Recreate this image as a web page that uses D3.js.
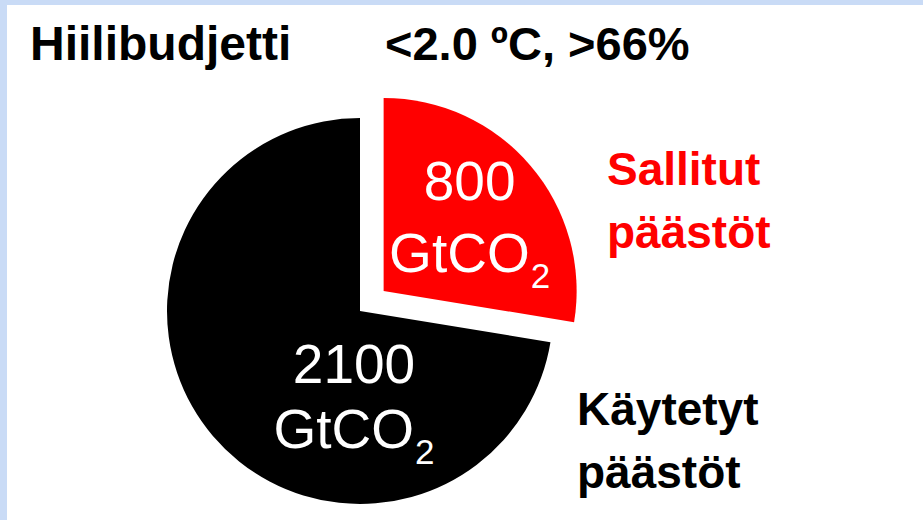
<!DOCTYPE html>
<html lang="fi">
<head>
<meta charset="UTF-8">
<title>Hiilibudjetti</title>
<script src="https://d3js.org/d3.v7.min.js"></script>
<style>
    body { margin: 0; background: #fff; }
    text { font-family: "Liberation Sans", Arial, sans-serif; }
</style>
</head>
<body>
<svg width="923" height="520"></svg>
<script>
    // data
    const categories = ["Sallitut päästöt", "Käytetyt päästöt"];
    const values = [800, 2100];
    const units = ["GtCO", "GtCO"];
    const colors = ["#ff0000", "#000000"];
    const legendLines = [["Sallitut", "päästöt"], ["Käytetyt", "päästöt"]];
    const titleLeft = "Hiilibudjetti";
    const titleRight = "<2.0 ºC, >66%";

    const svg = d3.select("svg");
    const W = 923, H = 520;

    // slide frame (light blue strip left and top)
    svg.append("rect").attr("width", W).attr("height", H).attr("fill", "#c9dbf6");
    svg.append("rect").attr("x", 7).attr("y", 5).attr("width", W - 7).attr("height", H - 5).attr("fill", "#fff");

    svg.append("text").attr("x", 30).attr("y", 60)
        .attr("font-size", 48).attr("font-weight", "bold").text(titleLeft);
    svg.append("text").attr("x", 385).attr("y", 60)
        .attr("font-size", 47).attr("font-weight", "bold").text(titleRight);

    const cx = 360, cy = 311, r = 193, explode = 31;

    const pie = d3.pie().sort(null).value(d => d)(values);
    const arc = d3.arc().innerRadius(0).outerRadius(r);

    const g = svg.append("g").attr("transform", `translate(${cx},${cy})`);

    const slices = g.selectAll("g.slice")
        .data(pie)
        .enter()
        .append("g")
        .attr("class", "slice")
        .attr("transform", function (d, i) {
            if (i !== 0) return null;
            const a = (d.startAngle + d.endAngle) / 2;
            return `translate(${Math.sin(a) * explode},${-Math.cos(a) * explode})`;
        });

    slices.append("path")
        .attr("d", arc)
        .attr("fill", (d, i) => colors[i]);

    // value labels, placed by hand like the original slide
    const labelPos = [[86, -91, -19], [-6, 72, 137]];
    slices.each(function (d, i) {
        const s = d3.select(this);
        const p = labelPos[i];
        s.append("text").attr("x", p[0]).attr("y", p[1])
            .attr("text-anchor", "middle").attr("fill", "#fff")
            .attr("font-size", 55).text(values[i]);
        const t = s.append("text").attr("x", p[0]).attr("y", p[2])
            .attr("text-anchor", "middle").attr("fill", "#fff")
            .attr("font-size", 55);
        t.append("tspan").text(units[i]);
        t.append("tspan").attr("font-size", 35).attr("dx", 1).attr("dy", 16).text("2");
    });

    // side labels
    const sideX = [607, 577], sideY = [185, 425];
    legendLines.forEach(function (lines, i) {
        lines.forEach(function (line, j) {
            svg.append("text")
                .attr("x", sideX[i]).attr("y", sideY[i] + j * 63)
                .attr("font-size", 46).attr("font-weight", "bold")
                .attr("fill", colors[i]).text(line);
        });
    });
</script>
</body>
</html>
